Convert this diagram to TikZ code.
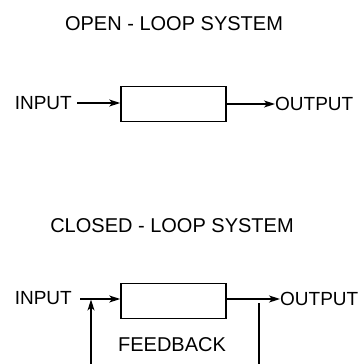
\documentclass[tikz,border=0pt]{standalone}
\usepackage{fontspec}
\setmainfont{Liberation Sans}
\usetikzlibrary{arrows.meta}
\begin{document}
\begin{tikzpicture}[x=1pt,y=-1pt,
  lbl/.style={inner sep=0pt,font=\fontsize{19}{19}\selectfont},
  ttl/.style={inner sep=0pt,font=\fontsize{20}{20}\selectfont},
  blk/.style={draw,line width=1.6pt,minimum width=105pt,minimum height=35pt,inner sep=0pt},
  conn/.style={line width=1.5pt,-{Stealth[length=11pt,width=7pt,inset=3pt]}},
  plain/.style={line width=1.5pt}]
\useasboundingbox (0,0) rectangle (361,364);
% open loop
\node[ttl] (t1) at (174,24) {OPEN - LOOP SYSTEM};
\node[blk] (b1) at (173.5,104) {};
\node[lbl,anchor=east] (i1) at (72,103) {INPUT};
\node[lbl,anchor=west] (o1) at (275,104) {OUTPUT};
\draw[conn] (i1.east) ++(5,0) coordinate (i1s) -- (b1.west |- i1s);
\draw[conn] (b1.east |- o1.west) -- (o1.west);
% closed loop
\node[ttl] (t2) at (172,226) {CLOSED - LOOP SYSTEM};
\node[blk] (b2) at (173.5,301) {};
\node[lbl,anchor=east] (i2) at (72,298) {INPUT};
\node[lbl,anchor=west] (o2) at (280,299) {OUTPUT};
\node[ttl] (fb) at (172,345) {FEEDBACK};
\coordinate (is) at (80,299);
\coordinate (ij) at (91,299.5);
\draw[conn] (is) -- (b2.west |- is);
\draw[conn] (b2.east |- o2.west) -- (o2.west);
\coordinate (lb) at (91,364);
\draw[conn] (lb) -- (ij);
\coordinate (rt) at (259,303);
\coordinate (rb) at (259,364);
\draw[plain] (rt) -- (rb);
\end{tikzpicture}
\end{document}
